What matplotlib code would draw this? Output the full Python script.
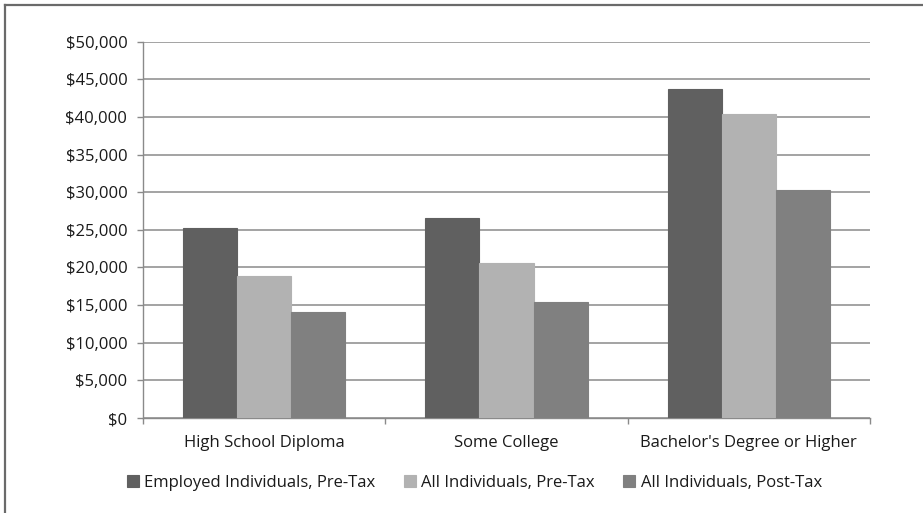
import matplotlib
matplotlib.use("Agg")
import matplotlib.pyplot as plt
import numpy as np
from matplotlib.lines import Line2D
from matplotlib.ticker import FuncFormatter

#------------------------------------------------------------------------------
# data

categories = ["High School Diploma", "Some College", "Bachelor's Degree or Higher"]
series_names = ["Employed Individuals, Pre-Tax", "All Individuals, Pre-Tax",
                "All Individuals, Post-Tax"]
employed_pre = [25200, 26550, 43650]
all_pre = [18850, 20600, 40350]
all_post = [14050, 15400, 30300]
series_colors = ["#606060", "#b2b2b2", "#808080"]

#------------------------------------------------------------------------------

plt.rcParams['font.family'] = ['Open Sans', 'DejaVu Sans']
FS = 12

fig = plt.figure(figsize=(9.23, 5.13), dpi=100)
ax = fig.add_axes([143/923, 1 - 418/513, (870-143)/923, (418-41.7)/513])

x = np.arange(len(categories))
bw = 0.223
for i, (vals, col) in enumerate(zip([employed_pre, all_pre, all_post], series_colors)):
    ax.bar(x + (i - 1) * bw, vals, bw, color=col, edgecolor=col, linewidth=0.8,
           label=series_names[i], zorder=3)

ax.set_xlim(-0.5, len(categories) - 0.5)
ax.set_ylim(0, 50000)
ax.set_yticks(np.arange(0, 50001, 5000))
ax.yaxis.set_major_formatter(FuncFormatter(lambda v, p: "${:,.0f}".format(v)))
ax.grid(axis="y", color="#8a8a8a", linewidth=1.1, zorder=0)

ax.set_xticks(x)
ax.set_xticklabels(categories)
ax.set_xticks(np.arange(-0.5, len(categories)), minor=True)
ax.tick_params(axis="x", which="major", length=0, pad=12, labelsize=FS, colors="#1a1a1a")
ax.tick_params(axis="x", which="minor", length=4.3, color="#8a8a8a", width=1)
ax.tick_params(axis="y", length=4.3, color="#8a8a8a", width=1, pad=7,
               labelsize=FS, labelcolor="#1a1a1a")

for s in ["top", "right"]:
    ax.spines[s].set_visible(False)
for s in ["left", "bottom"]:
    ax.spines[s].set_color("#8a8a8a")
    ax.spines[s].set_linewidth(1)

leg = fig.legend(loc="center", bbox_to_anchor=(474.5/923, 1 - 483/513), ncol=3,
                 frameon=False, fontsize=FS, handlelength=0.7, handleheight=0.7,
                 handletextpad=0.35, columnspacing=1.7, borderpad=0)
for t in leg.get_texts():
    t.set_color("#1a1a1a")

# frame lines on the left and top edge of the picture
fig.add_artist(Line2D([4.5/923, 4.5/923], [0, 1 - 4.5/513], color="#6a6a6a", lw=1.6,
                      transform=fig.transFigure))
fig.add_artist(Line2D([4.5/923, 1], [1 - 4.5/513, 1 - 4.5/513], color="#6a6a6a", lw=1.6,
                      transform=fig.transFigure))

fig.savefig("out.png", dpi=100)
